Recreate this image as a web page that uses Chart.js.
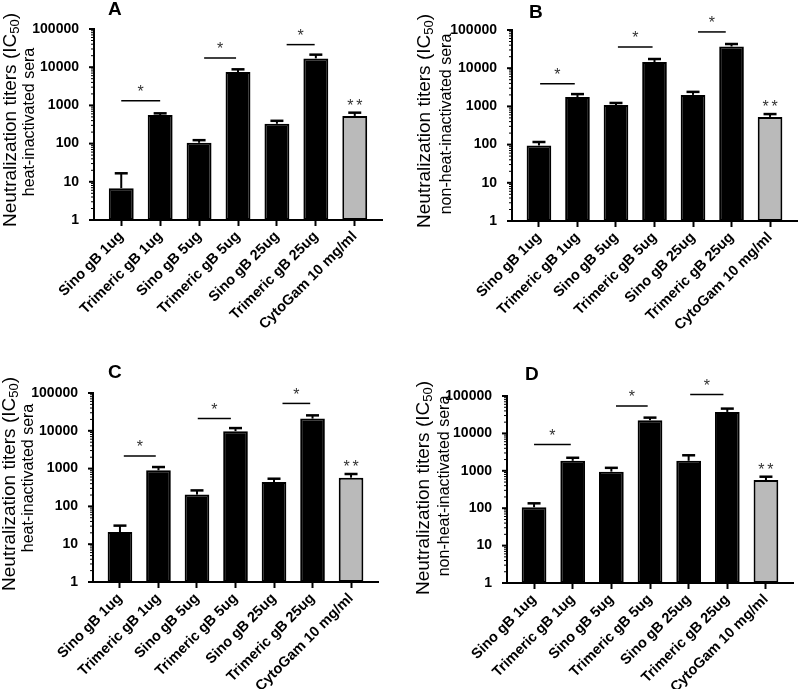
<!DOCTYPE html>
<html>
<head>
<meta charset="utf-8">
<script src="https://cdn.jsdelivr.net/npm/chart.js@4.4.1/dist/chart.umd.min.js"></script>
<style>
  body { margin: 0; background: #fff; }
  #wrap { position: relative; width: 800px; height: 689px; }
  #wrap canvas { position: absolute; }
</style>
</head>
<body>
<div id="wrap">
  <canvas id="chart-a" width="400" height="345" style="left:0;top:0"></canvas>
  <canvas id="chart-b" width="400" height="345" style="left:400px;top:0"></canvas>
  <canvas id="chart-c" width="400" height="344" style="left:0;top:345px"></canvas>
  <canvas id="chart-d" width="400" height="344" style="left:400px;top:345px"></canvas>
</div>
<script>
// Neutralization titers, four panels

const categories = ['Sino gB 1ug', 'Trimeric gB 1ug', 'Sino gB 5ug', 'Trimeric gB 5ug',
  'Sino gB 25ug', 'Trimeric gB 25ug', 'CytoGam 10 mg/ml'];
const yTicks = [1, 10, 100, 1000, 10000, 100000];

// bar heights and upper end of the error bars
const titersA = [6.8, 560, 105, 7500, 330, 17000, 530];
const errorsA = [16.7, 620, 123, 8800, 395, 21300, 645];
const titersB = [95, 1750, 1080, 14500, 2000, 37000, 530];
const errorsB = [117, 2100, 1230, 17400, 2400, 43000, 630];
const titersC = [21, 900, 205, 9800, 440, 21000, 575];
const errorsC = [31, 1100, 265, 11800, 540, 25600, 720];
const titersD = [106, 1850, 950, 22400, 1850, 37500, 565];
const errorsD = [135, 2230, 1200, 26400, 2600, 46000, 695];

// significance bars: [from, to, titer level]
const sigA = [[0, 1, 1330], [2.13, 2.95, 17400], [4.25, 4.97, 39000]];
const sigB = [[0.03, 0.93, 3900], [2.05, 2.95, 36000], [4.13, 4.85, 89000]];
const sigC = [[0.1, 0.93, 2150], [2.02, 2.88, 21000], [4.22, 4.94, 53000]];
const sigD = [[0, 0.95, 5050], [2.12, 2.94, 54000], [4.04, 4.9, 110000]];

const FONT = "'Liberation Sans', Arial, sans-serif";
const BAR_COLORS = ['#000', '#000', '#000', '#000', '#000', '#000', '#bababa'];

const annotations = {
  id: 'annotations',
  afterDatasetsDraw(chart, args, opts) {
    const { ctx } = chart;
    const x = chart.scales.x, y = chart.scales.y;
    const meta = chart.getDatasetMeta(0);
    ctx.save();
    ctx.strokeStyle = '#000';
    // error bars (upper only)
    meta.data.forEach((bar, i) => {
      const top = y.getPixelForValue(opts.errors[i]);
      ctx.lineWidth = 2;
      ctx.beginPath();
      ctx.moveTo(bar.x, bar.y);
      ctx.lineTo(bar.x, top);
      ctx.stroke();
      ctx.lineWidth = 2.5;
      ctx.beginPath();
      ctx.moveTo(bar.x - 6.5, top);
      ctx.lineTo(bar.x + 6.5, top);
      ctx.stroke();
    });
    // minor and major ticks on the log axis
    const ax = chart.chartArea.left;
    ctx.lineWidth = 1;
    for (let d = 0; d < yTicks.length - 1; d++) {
      for (let k = 2; k <= 9; k++) {
        const py = y.getPixelForValue(yTicks[d] * k);
        ctx.beginPath();
        ctx.moveTo(ax - 3, py);
        ctx.lineTo(ax, py);
        ctx.stroke();
      }
    }
    ctx.lineWidth = 2;
    yTicks.forEach(v => {
      const py = y.getPixelForValue(v);
      ctx.beginPath();
      ctx.moveTo(ax - 5, py);
      ctx.lineTo(ax, py);
      ctx.stroke();
    });
    // significance lines and stars
    ctx.lineWidth = 1.5;
    ctx.fillStyle = '#333';
    ctx.font = '16px ' + FONT;
    ctx.textAlign = 'center';
    ctx.textBaseline = 'middle';
    opts.sig.forEach(([a, b, v]) => {
      const py = y.getPixelForValue(v);
      const x1 = x.getPixelForValue(a), x2 = x.getPixelForValue(b);
      ctx.beginPath();
      ctx.moveTo(x1, py);
      ctx.lineTo(x2, py);
      ctx.stroke();
      ctx.fillText('*', (x1 + x2) / 2, py - 8);
    });
    const last = meta.data[meta.data.length - 1];
    const starY = y.getPixelForValue(opts.errors[opts.errors.length - 1]) - 6;
    ctx.fillText('*', last.x - 4.5, starY);
    ctx.fillText('*', last.x + 4.5, starY);
    ctx.restore();
  },
  afterDraw(chart, args, opts) {
    const { ctx } = chart;
    ctx.save();
    // panel letter
    ctx.fillStyle = '#000';
    ctx.font = 'bold 19px ' + FONT;
    ctx.textAlign = 'left';
    ctx.textBaseline = 'alphabetic';
    ctx.fillText(opts.letter, opts.letterX, opts.letterY);
    // y axis title with subscript
    ctx.translate(opts.titleX, opts.titleY);
    ctx.rotate(-Math.PI / 2);
    const mainFont = '19px ' + FONT, subFont = '13px ' + FONT;
    ctx.font = mainFont;
    const p1 = 'Neutralization titers (IC', p3 = ')';
    const w1 = ctx.measureText(p1).width, w3 = ctx.measureText(p3).width;
    ctx.font = subFont;
    const w2 = ctx.measureText('50').width;
    let sx = -(w1 + w2 + w3) / 2;
    ctx.textBaseline = 'middle';
    ctx.font = mainFont;
    ctx.fillText(p1, sx, 0);
    ctx.font = subFont;
    ctx.fillText('50', sx + w1, 4);
    ctx.font = mainFont;
    ctx.fillText(p3, sx + w1 + w2, 0);
    ctx.restore();
    ctx.save();
    ctx.translate(opts.subX, opts.subY);
    ctx.rotate(-Math.PI / 2);
    ctx.font = '16px ' + FONT;
    ctx.textAlign = 'center';
    ctx.textBaseline = 'middle';
    ctx.fillStyle = '#000';
    ctx.fillText(opts.sub, 0, 0);
    ctx.restore();
  }
};

function makePanel(id, titers, errors, sig, L) {
  const canvas = document.getElementById(id);
  const H = canvas.height;
  new Chart(canvas, {
    type: 'bar',
    data: {
      datasets: [{
        data: titers.map((v, i) => ({ x: i, y: v })),
        backgroundColor: BAR_COLORS,
        borderColor: '#000',
        borderWidth: 2,
        borderSkipped: false,
        barPercentage: 0.64,
        categoryPercentage: 1
      }]
    },
    options: {
      responsive: false, animation: false, devicePixelRatio: 1,
      layout: { autoPadding: false, padding: { top: L.top, right: 400 - L.right, left: 0, bottom: 0 } },
      plugins: {
        legend: { display: false }, tooltip: { enabled: false },
        annotations: { errors, sig, ...L }
      },
      scales: {
        x: {
          type: 'linear', min: -0.7, max: 6.7, offset: false,
          afterFit: s => { s.height = H - L.bottom; },
          afterBuildTicks: s => { s.ticks = categories.map((c, i) => ({ value: i })); },
          grid: { offset: false, drawOnChartArea: false, drawTicks: true, tickLength: 6, tickWidth: 2, tickColor: '#000' },
          border: { display: true, color: '#000', width: 2 },
          ticks: {
            autoSkip: false, minRotation: 45, maxRotation: 45, padding: 2,
            color: '#000', font: { family: FONT, size: 14.5, weight: 'bold' },
            callback: v => categories[v]
          }
        },
        y: {
          type: 'logarithmic', min: 1, max: 100000,
          afterFit: s => { s.width = L.left; },
          afterBuildTicks: s => { s.ticks = yTicks.map(v => ({ value: v })); },
          grid: { display: false },
          border: { display: true, color: '#000', width: 2 },
          ticks: {
            autoSkip: false, padding: 7, color: '#000',
            font: { family: FONT, size: 14, weight: 'bold' },
            callback: v => String(v)
          }
        }
      }
    },
    plugins: [annotations]
  });
}

makePanel('chart-a', titersA, errorsA, sigA, {
  left: 94, right: 382, top: 29, bottom: 220, letter: 'A', letterX: 108, letterY: 15,
  titleX: 11, titleY: 120, subX: 30, subY: 122, sub: 'heat-inactivated sera'
});
makePanel('chart-b', titersB, errorsB, sigB, {
  left: 112, right: 397, top: 30, bottom: 221, letter: 'B', letterX: 129, letterY: 18,
  titleX: 25, titleY: 121, subX: 47, subY: 124, sub: 'non-heat-inactivated sera'
});
makePanel('chart-c', titersC, errorsC, sigC, {
  left: 93, right: 378, top: 48, bottom: 237, letter: 'C', letterX: 108, letterY: 33,
  titleX: 10, titleY: 139, subX: 29, subY: 133, sub: 'heat-inactivated sera'
});
makePanel('chart-d', titersD, errorsD, sigD, {
  left: 107, right: 393, top: 51, bottom: 238, letter: 'D', letterX: 125, letterY: 35,
  titleX: 24, titleY: 143, subX: 45, subY: 141, sub: 'non-heat-inactivated sera'
});
</script>
</body>
</html>
